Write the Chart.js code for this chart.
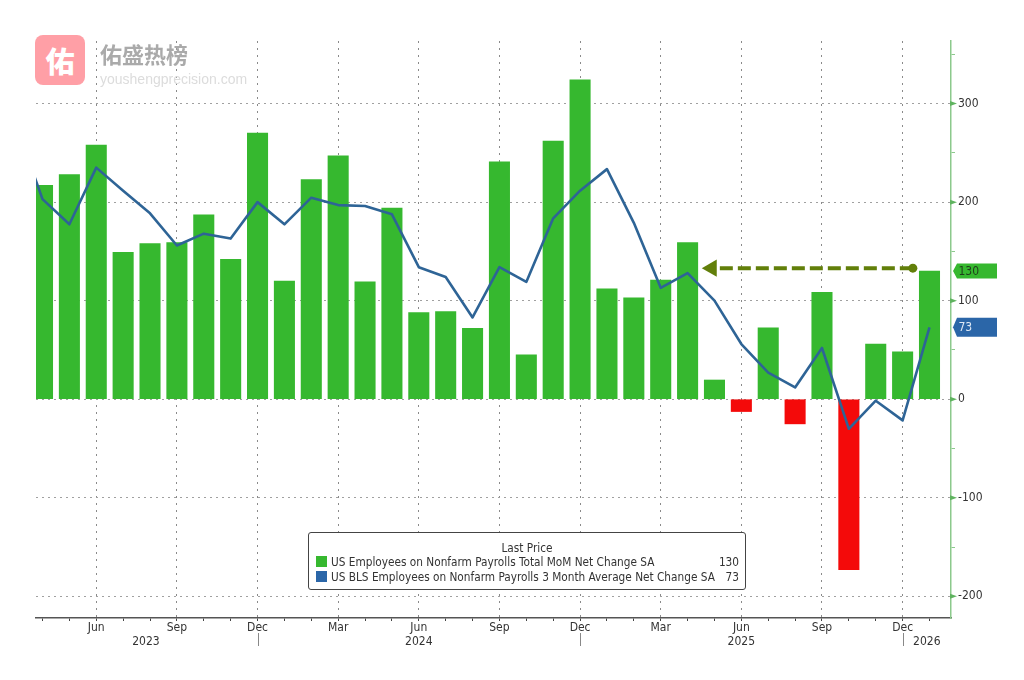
<!DOCTYPE html>
<html><head><meta charset="utf-8">
<script src="https://cdn.jsdelivr.net/npm/chart.js@4"></script>
<style>
html,body{margin:0;padding:0;background:#fff;}
#wrap{position:relative;width:1024px;height:680px;overflow:hidden;background:#fff;font-family:"DejaVu Sans Condensed","DejaVu Sans",sans-serif;}
canvas{position:absolute;left:0;top:0;}
#logo{position:absolute;left:35px;top:35px;width:50px;height:50px;border-radius:8px;background:#ff9fa6;color:#fff;font:900 29px/50px "Noto Sans CJK SC",sans-serif;text-align:center;}
#wm1{position:absolute;left:100px;top:38px;color:#aaa;font:700 22px/30px "Noto Sans CJK SC",sans-serif;white-space:nowrap;}
#wm2{position:absolute;left:100px;top:70px;color:#dcdcdc;font:14px/18px "Liberation Sans",sans-serif;white-space:nowrap;}
#legend{position:absolute;left:308px;top:532px;width:436px;height:56px;border:1px solid #444;border-radius:3px;background:#fff;color:#333;font-size:11.72px;}
#legend div{position:absolute;white-space:nowrap;line-height:14px;}
.sw{width:11px;height:11px;left:7px;}
</style></head>
<body><div id="wrap">
<canvas id="c" width="1024" height="680" style="width:1024px;height:680px"></canvas>
<div id="logo">佑</div><div id="wm1">佑盛热榜</div><div id="wm2">youshengprecision.com</div>
<div id="legend">
<div id="lgTitle" style="left:0;width:436px;text-align:center;top:8px">Last Price</div>
<div class="sw" style="top:23px;background:#36b82f"></div>
<div id="lg1" style="left:22px;top:22px"></div><div id="lv1" style="right:6px;top:22px"></div>
<div class="sw" style="top:38px;background:#2b66a8"></div>
<div id="lg2" style="left:22px;top:37px"></div><div id="lv2" style="right:6px;top:37px"></div>
</div>
</div>
<script>
// index 0 = Apr 2023, one bar per month through Jan 2026
const payrollChange = [217,228,258,149,158,159,187,142,270,120,223,247,119,194,88,89,72,241,45,262,324,112,103,121,159,19.5,-12.5,72.5,-25,108.5,-173,56,48,130];
// first value is Mar 2023 (just left of the visible window)
const threeMonthAvg = [280,203,177.5,235,211.6,188.6,156,168,163,200,177.5,204.5,197,196,187.6,134,124,83,134,119,183.6,211.6,233.5,179,113,128,100,56,27,12,52,-30,-1.5,-21.5,73];
const monthTickIndex = [2,5,8,11,14,17,20,23,26,29,32];
const monthTickLabels = ['Jun','Sep','Dec','Mar','Jun','Sep','Dec','Mar','Jun','Sep','Dec'];
const yearTickIndex = [3.85,14,26,32.9];
const yearTickLabels = ['2023','2024','2025','2026'];
const yearDividers = [8,20,32];
const yMajorTicks = [-200,-100,0,100,200,300];
const yMinorTicks = [-150,-50,50,150,250,350];
const arrowX = [32.38,24.9];
const arrowY = [133,133];
const seriesNames = ['US Employees on Nonfarm Payrolls Total MoM Net Change SA','US BLS Employees on Nonfarm Payrolls 3 Month Average Net Change SA'];
const lastValues = [130,73];

document.getElementById('lg1').textContent = seriesNames[0];
document.getElementById('lg2').textContent = seriesNames[1];
document.getElementById('lv1').textContent = lastValues[0];
document.getElementById('lv2').textContent = lastValues[1];

const GREEN='#36b82f', RED='#f40a0a', BLUE='#2e6496', TEXT='#333';
const FONT='"DejaVu Sans Condensed","DejaVu Sans",sans-serif';
const XMIN=-0.242, XMAX=33.8;

const decor = {
  id:'decor',
  afterDraw(ch){
    const c=ch.ctx, y=ch.scales.y, x=ch.scales.x, ax=ch.chartArea.right;
    c.save();
    c.fillStyle='#5fb35f';
    yMajorTicks.forEach(v=>{const p=y.getPixelForValue(v);
      c.beginPath();c.moveTo(ax-1,p-2.5);c.lineTo(ax+6,p);c.lineTo(ax-1,p+2.5);c.closePath();c.fill();});
    c.strokeStyle='#888';c.lineWidth=1;
    yearDividers.forEach(v=>{const p=Math.round(x.getPixelForValue(v))+.5;
      c.beginPath();c.moveTo(p,633);c.lineTo(p,646);c.stroke();});
    const tag=(val,h,col,txt)=>{const p=y.getPixelForValue(val);
      c.fillStyle=col;c.beginPath();c.moveTo(953,p);c.lineTo(957,p-h/2);c.lineTo(997,p-h/2);c.lineTo(997,p+h/2);c.lineTo(957,p+h/2);c.closePath();c.fill();
      c.fillStyle=txt;c.font='12px '+FONT;c.textBaseline='middle';c.textAlign='left';c.fillText(String(val),958.5,p+.5);};
    tag(lastValues[0],15,GREEN,'#1f3d1a');
    tag(lastValues[1],19,'#2b66a8','#dfe9f5');
    c.restore();
  }
};

new Chart(document.getElementById('c'),{
  data:{datasets:[
    {type:'line',order:1,data:arrowX.map((v,i)=>({x:v,y:arrowY[i]})),borderColor:'#627f0a',borderWidth:4,borderDash:[13,5],
     pointStyle:['circle','triangle'],pointRadius:[4.5,10],pointRotation:[0,-90],pointBackgroundColor:'#627f0a',pointBorderColor:'#627f0a',pointBorderWidth:0,tension:0},
    {type:'line',order:2,data:threeMonthAvg.map((v,i)=>({x:i-1,y:v})),borderColor:BLUE,borderWidth:2.6,pointRadius:0,tension:0,borderJoinStyle:'round'},
    {type:'bar',order:3,data:payrollChange.map((v,i)=>({x:i,y:v})),barThickness:20.4,
     backgroundColor:payrollChange.map(v=>v<0?RED:GREEN)}
  ]},
  options:{
    responsive:false,animation:false,devicePixelRatio:1,
    layout:{padding:{left:36,top:41,right:0,bottom:0}},
    plugins:{legend:{display:false},tooltip:{enabled:false}},
    scales:{
      x:{type:'linear',position:'bottom',min:XMIN,max:XMAX,offset:false,
        afterBuildTicks:s=>{s.ticks=payrollChange.map((_,i)=>({value:i}));},
        afterFit:s=>{s.height=17;},
        ticks:{autoSkip:false,maxRotation:0,padding:0,color:TEXT,font:{family:FONT,size:12},
          callback:v=>{const k=monthTickIndex.indexOf(v);return k<0?'':monthTickLabels[k];}},
        grid:{offset:false,color:c=>monthTickIndex.includes(c.tick&&c.tick.value)?'#8a8a8a':'rgba(0,0,0,0)',tickColor:'#444',tickLength:3,lineWidth:1},
        border:{color:'#555',width:1.5,dash:[2,5]}
      },
      xYears:{type:'linear',axis:'x',position:'bottom',min:XMIN,max:XMAX,
        afterBuildTicks:s=>{s.ticks=yearTickIndex.map(v=>({value:v}));},
        afterFit:s=>{s.height=45;},
        ticks:{autoSkip:false,maxRotation:0,padding:0,color:TEXT,font:{family:FONT,size:12},
          callback:v=>yearTickLabels[yearTickIndex.indexOf(v)]},
        grid:{display:false,drawTicks:false},border:{display:false}
      },
      y:{type:'linear',position:'right',min:-222,max:363.5,
        afterBuildTicks:s=>{s.ticks=yMajorTicks.concat(yMinorTicks).sort((a,b)=>a-b).map(v=>({value:v}));},
        afterFit:s=>{s.width=73;},
        ticks:{autoSkip:false,padding:3,color:TEXT,font:{family:FONT,size:12},
          callback:v=>yMajorTicks.includes(v)?String(v):''},
        grid:{color:c=>yMajorTicks.includes(c.tick&&c.tick.value)?'#a0a0a0':'rgba(0,0,0,0)',tickColor:'#8cc98c',tickLength:4,lineWidth:1},
        border:{color:'#8cc98c',width:1.5,dash:[2,4]}
      }
    }
  },
  plugins:[decor]
});
</script>
</body></html>
